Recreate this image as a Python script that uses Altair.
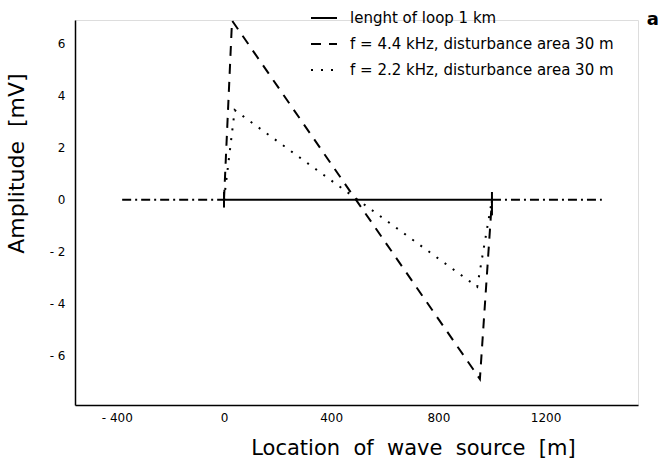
import altair as alt
import pandas as pd

# ---- data ----
series_names = [
    "lenght of loop 1 km",
    "f = 4.4 kHz, disturbance area 30 m",
    "f = 2.2 kHz, disturbance area 30 m",
]
loop_x = [0, 1000]
loop_y = [0, 0]
f44_x = [0, 30, 955, 1000]
f44_y = [0, 6.9, -6.9, 0]
f22_x = [0, 40, 945, 1000]
f22_y = [0, 3.45, -3.35, 0]
outside_x = [-380, 0, 1000, 1410]
outside_y = [0, 0, 0, 0]
outside_seg = ["left", "left", "right", "right"]
end_x = [0, 1000]
end_top = [0.3, 0.3]
end_bottom = [-0.3, -0.6]

x_ticks = [-400, 0, 400, 800, 1200]
y_ticks = [-6, -4, -2, 0, 2, 4, 6]

rows = []
for name, xs, ys in zip(series_names, [loop_x, f44_x, f22_x], [loop_y, f44_y, f22_y]):
    for i, (a, b) in enumerate(zip(xs, ys)):
        rows.append({"series": name, "x": a, "y": b, "i": i})
main_df = pd.DataFrame(rows)
out_df = pd.DataFrame({"x": outside_x, "y": outside_y, "seg": outside_seg})
end_df = pd.DataFrame({"x": end_x, "top": end_top, "bottom": end_bottom})

FONT = "DejaVu Sans"
xscale = alt.Scale(domain=[-556, 1545], nice=False, zero=False)
yscale = alt.Scale(domain=[-7.9, 6.92], nice=False, zero=False)

LABEL_EXPR = "datum.value < 0 ? '- ' + abs(datum.value) : '' + datum.value"

xaxis = alt.Axis(
    values=x_ticks,
    title="Location\u00a0 of\u00a0 wave\u00a0 source\u00a0 [m]",
    labelExpr=LABEL_EXPR,
    grid=False, ticks=False, domainColor="black", domainWidth=1.5,
    labelFont=FONT, labelFontSize=12, labelColor="black", labelPadding=7,
    titleFont=FONT, titleFontSize=21, titleFontWeight="normal", titleColor="black",
    titleX=338, titleY=49, titleAlign="center", titleBaseline="alphabetic",
)
yaxis = alt.Axis(
    values=y_ticks,
    title="Amplitude\u00a0 [mV]",
    labelExpr=LABEL_EXPR,
    grid=False, ticks=False, domainColor="black", domainWidth=1.5,
    labelFont=FONT, labelFontSize=12, labelColor="black", labelPadding=10,
    titleFont=FONT, titleFontSize=22, titleFontWeight="normal", titleColor="black",
    titleX=-59, titleY=143, titleAngle=270, titleAlign="center", titleBaseline="middle",
)

main = alt.Chart(main_df).mark_line(color="black", strokeWidth=2).encode(
    x=alt.X("x:Q", scale=xscale, axis=xaxis),
    y=alt.Y("y:Q", scale=yscale, axis=yaxis),
    order="i:Q",
    strokeDash=alt.StrokeDash(
        "series:N",
        scale=alt.Scale(domain=series_names, range=[[1, 0], [10, 8], [2, 8]]),
        legend=alt.Legend(
            title=None, orient="none", legendX=235, legendY=-16, padding=0,
            symbolType="stroke", symbolSize=676, symbolStrokeWidth=2,
            symbolStrokeColor="black", labelFont=FONT, labelFontSize=15,
            labelColor="black", labelOffset=12, rowPadding=4, labelLimit=400,
        ),
    ),
)

outside = alt.Chart(out_df).mark_line(
    color="black", strokeWidth=1.8, strokeDash=[9, 4, 2, 4]
).encode(
    x=alt.X("x:Q", scale=xscale),
    y=alt.Y("y:Q", scale=yscale),
    detail="seg:N",
)

ends = alt.Chart(end_df).mark_rule(color="black", strokeWidth=2).encode(
    x=alt.X("x:Q", scale=xscale),
    y=alt.Y("top:Q", scale=yscale),
    y2="bottom:Q",
)

chart = alt.layer(outside, main, ends).properties(
    width=563,
    height=385,
    padding={"left": 75, "top": 20, "right": 24, "bottom": 54},
    autosize=alt.AutoSizeParams(type="none"),
    title=alt.TitleParams(
        "a", anchor="end", orient="top", frame="group", font=FONT,
        fontSize=18, fontWeight="bold", color="black", dx=21, dy=0,
        offset=-39, baseline="alphabetic",
    ),
).configure_view(stroke=None).configure(background="white")

chart.save("out.html", embed_options={"renderer": "svg", "actions": False})
